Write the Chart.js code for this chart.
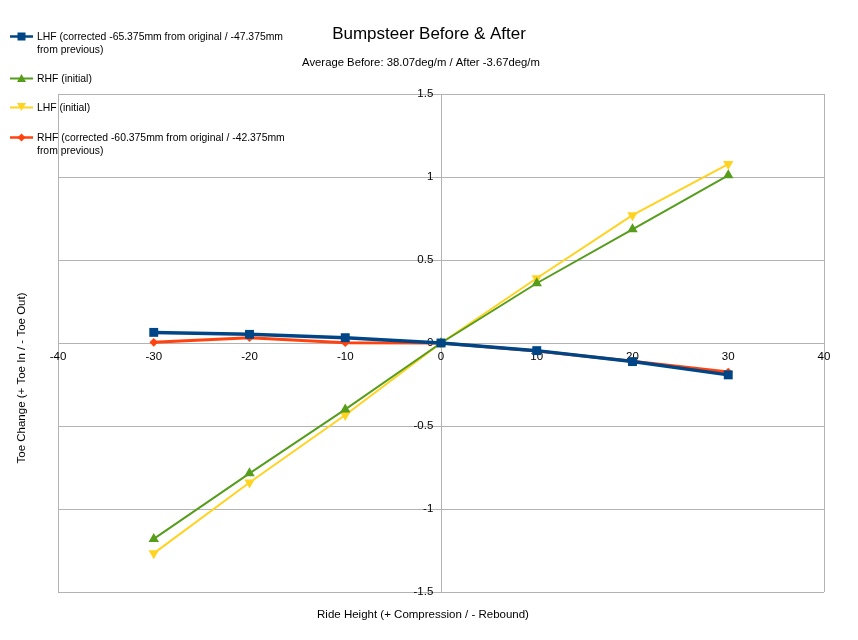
<!DOCTYPE html>
<html>
<head>
<meta charset="utf-8">
<title>Bumpsteer Before & After</title>
<script src="https://cdn.jsdelivr.net/npm/chart.js@4.4.1/dist/chart.umd.min.js"></script>
<style>
    body { margin: 0; background: #fff; font-family: "Liberation Sans", Arial, sans-serif; }
    #wrap { position: relative; width: 858px; height: 640px; }
    #legend { position: absolute; left: 10px; top: 30px; font-size: 10.4px; color: #000; }
    .item { position: absolute; left: 0; white-space: nowrap; line-height: 13px; }
    .item svg { position: absolute; left: 0; top: 0; }
    .item span { position: absolute; left: 27px; top: 0; }
</style>
</head>
<body>
<div id="wrap">
    <canvas id="bumpChart" width="858" height="640"></canvas>
    <div id="legend"></div>
</div>
<script>
// Ride height (mm)
const rideHeight = [-30, -20, -10, 0, 10, 20, 30];

// Toe change per series
const lhfCorrected = [0.064, 0.052, 0.032, 0, -0.046, -0.112, -0.192];
const rhfInitial = [-1.18, -0.785, -0.40, 0, 0.36, 0.685, 1.01];
const lhfInitial = [-1.267, -0.84, -0.434, 0, 0.39, 0.77, 1.078];
const rhfCorrected = [0.004, 0.032, 0.002, 0, -0.048, -0.11, -0.175];

const seriesLabels = [
    ['LHF (corrected -65.375mm from original / -47.375mm', 'from previous)'],
    ['RHF (initial)'],
    ['LHF (initial)'],
    ['RHF (corrected -60.375mm from original / -42.375mm', 'from previous)']
];

const xTicks = [-40, -30, -20, -10, 0, 10, 20, 30, 40];
const yTicks = [-1.5, -1, -0.5, 0, 0.5, 1, 1.5];

const titleText = 'Bumpsteer Before & After';
const subtitleText = 'Average Before: 38.07deg/m / After -3.67deg/m';
const xTitle = 'Ride Height (+ Compression / - Rebound)';
const yTitle = 'Toe Change (+ Toe In / - Toe Out)';

const FONT = '"Liberation Sans", Arial, sans-serif';
const GRID = '#b3b3b3';

function pts(values) {
    return rideHeight.map((x, i) => ({ x: x, y: values[i] }));
}

const styles = [
    { color: '#004586', width: 3.5, shape: 'rect', radius: 6.3, rot: 0 },
    { color: '#579d1c', width: 2, shape: 'triangle', radius: 6, rot: 0 },
    { color: '#ffd320', width: 2, shape: 'triangle', radius: 6, rot: 180 },
    { color: '#ff420e', width: 3, shape: 'rectRot', radius: 4.3, rot: 0 }
];
const allValues = [lhfCorrected, rhfInitial, lhfInitial, rhfCorrected];

const datasets = allValues.map((vals, i) => ({
    label: seriesLabels[i].join(' '),
    data: pts(vals),
    borderColor: styles[i].color,
    backgroundColor: styles[i].color,
    borderWidth: styles[i].width,
    pointStyle: styles[i].shape,
    pointRadius: styles[i].radius,
    pointRotation: styles[i].rot,
    pointBackgroundColor: styles[i].color,
    pointBorderColor: styles[i].color,
    pointBorderWidth: 0,
    tension: 0,
    fill: false
}));

// titles drawn straight on the canvas
const titlesPlugin = {
    id: 'titles',
    afterDraw(chart) {
        const c = chart.ctx;
        c.save();
        c.fillStyle = '#000';
        c.textAlign = 'center';
        c.textBaseline = 'middle';
        c.font = '17px ' + FONT;
        c.fillText(titleText, 429, 34);
        c.font = '11.3px ' + FONT;
        c.fillText(subtitleText, 421, 63);
        c.font = '11.5px ' + FONT;
        c.fillText(xTitle, 423, 615);
        c.translate(22, 378);
        c.rotate(-Math.PI / 2);
        c.fillText(yTitle, 0, 0);
        c.restore();
    }
};

const ctx = document.getElementById('bumpChart').getContext('2d');
const bumpChart = new Chart(ctx, {
    type: 'line',
    data: { datasets: datasets },
    options: {
        responsive: false,
        animation: false,
        layout: { padding: { left: 58, right: 34, top: 94, bottom: 48 } },
        plugins: {
            legend: { display: false },
            tooltip: { enabled: false }
        },
        scales: {
            x: {
                type: 'linear',
                min: xTicks[0],
                max: xTicks[xTicks.length - 1],
                position: { y: 0 },
                afterBuildTicks: (axis) => { axis.ticks = xTicks.map(v => ({ value: v })); },
                ticks: { color: '#000', font: { family: FONT, size: 11.5 }, padding: 7, maxRotation: 0, callback: (v) => String(v) },
                grid: {
                    drawTicks: false,
                    color: (c) => (c.tick && [xTicks[0], 0, xTicks[xTicks.length - 1]].includes(c.tick.value)) ? GRID : 'rgba(0,0,0,0)',
                    lineWidth: 1
                },
                border: { display: true, color: GRID }
            },
            y: {
                type: 'linear',
                min: yTicks[0],
                max: yTicks[yTicks.length - 1],
                position: { x: -0.8 },
                afterBuildTicks: (axis) => { axis.ticks = yTicks.map(v => ({ value: v })); },
                ticks: { color: '#000', font: { family: FONT, size: 11.5 }, callback: (v) => String(v) },
                grid: { drawTicks: false, color: GRID, lineWidth: 1 },
                border: { display: false }
            }
        }
    },
    plugins: [titlesPlugin]
});

// legend built from the series labels
const legend = document.getElementById('legend');
const itemTops = [0, 42, 71, 101];
function markerSvg(s) {
    let m = '';
    const c = s.color;
    if (s.shape === 'rect') m = `<rect x="7.5" y="2.5" width="8" height="8" fill="${c}"/>`;
    else if (s.shape === 'rectRot') m = `<polygon points="11.5,2.5 15.5,6.5 11.5,10.5 7.5,6.5" fill="${c}"/>`;
    else if (s.rot === 180) m = `<polygon points="7,2 16,2 11.5,10" fill="${c}"/>`;
    else m = `<polygon points="11.5,2 16,10 7,10" fill="${c}"/>`;
    return `<svg width="24" height="13"><line x1="0" y1="6.5" x2="23" y2="6.5" stroke="${c}" stroke-width="${Math.min(s.width, 2.5)}"/>${m}</svg>`;
}
seriesLabels.forEach((lines, i) => {
    const div = document.createElement('div');
    div.className = 'item';
    div.style.top = itemTops[i] + 'px';
    div.innerHTML = markerSvg(styles[i]) + '<span>' + lines.join('<br>') + '</span>';
    legend.appendChild(div);
});
</script>
</body>
</html>
